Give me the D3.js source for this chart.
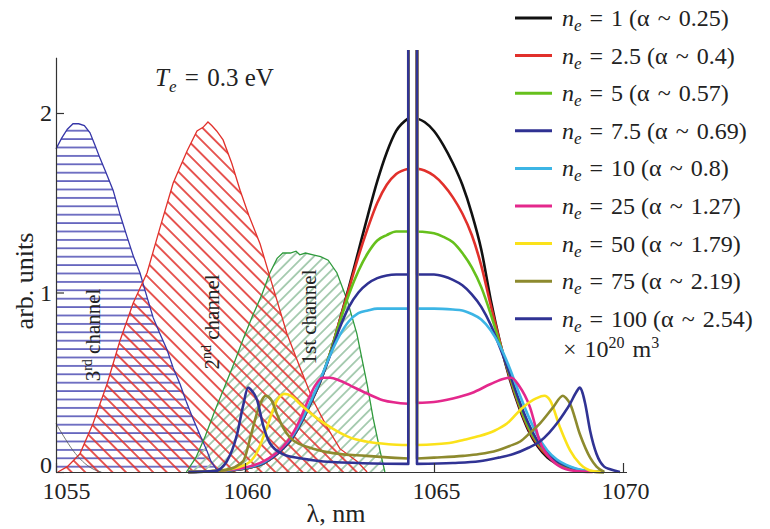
<!DOCTYPE html>
<html>
<head>
<meta charset="utf-8">
<script src="https://cdn.jsdelivr.net/npm/d3@7"></script>
<style>
  body { margin: 0; background: #fff; }
  svg text { font-family: "Liberation Serif", "Times New Roman", serif; }
</style>
</head>
<body>
<div id="chart"></div>
<script>
// axis ticks
const lambdaTicks = [1055, 1060, 1065, 1070];
const valueTicks = [0, 1, 2];

// filter channels [lambda nm, arb. units]
const channel3 = [[1055.0,1.80],[1055.15,1.86],[1055.3,1.91],[1055.45,1.94],[1055.6,1.94],[1055.75,1.93],[1055.9,1.89],[1056.05,1.81],[1056.16,1.75],[1056.3,1.68],[1056.51,1.57],[1056.7,1.43],[1056.88,1.31],[1057.05,1.2],[1057.22,1.11],[1057.4,0.98],[1057.57,0.86],[1057.75,0.77],[1057.94,0.68],[1058.1,0.58],[1058.28,0.49],[1058.45,0.39],[1058.62,0.30],[1058.8,0.21],[1058.99,0.12],[1059.1,0.06],[1059.26,0.01],[1059.4,0]];
const channel2 = [[1055.05,0],[1055.3,0.03],[1055.63,0.10],[1055.98,0.27],[1056.35,0.49],[1056.69,0.73],[1057.04,0.94],[1057.41,1.11],[1057.75,1.36],[1058.1,1.61],[1058.47,1.79],[1058.73,1.90],[1058.89,1.92],[1059.02,1.95],[1059.12,1.93],[1059.25,1.9],[1059.42,1.85],[1059.65,1.72],[1059.87,1.57],[1060.1,1.43],[1060.4,1.27],[1060.74,1.03],[1061.11,0.77],[1061.46,0.58],[1061.8,0.40],[1062.17,0.25],[1062.51,0.13],[1062.96,0.06],[1063.23,0]];
const channel1 = [[1058.45,0],[1058.7,0.08],[1058.95,0.2],[1059.2,0.34],[1059.45,0.47],[1059.7,0.6],[1059.95,0.74],[1060.2,0.87],[1060.45,0.99],[1060.66,1.11],[1060.85,1.19],[1061.0,1.22],[1061.2,1.22],[1061.35,1.23],[1061.45,1.21],[1061.6,1.22],[1061.8,1.21],[1062.0,1.2],[1062.2,1.18],[1062.43,1.11],[1062.7,0.96],[1062.96,0.77],[1063.23,0.49],[1063.39,0.30],[1063.57,0.12],[1063.7,0]];
const faintTail = [[1055.0,0.27],[1055.2,0.2],[1055.45,0.12],[1055.7,0.06],[1055.95,0.02],[1056.2,0]];
const channelNames = ["3", "2", "1"];
const channelSup = ["rd", "nd", "st"];

// laser notch edges (nm)
const notch = [1064.32, 1064.55];

// spectra, n_e x 10^20 m^-3
const densities = ["1", "2.5", "5", "7.5", "10", "25", "50", "75", "100"];
const alphas = ["0.25", "0.4", "0.57", "0.69", "0.8", "1.27", "1.79", "2.19", "2.54"];
const colors = ["#111111", "#e1302b", "#66c01c", "#2f3192", "#3cb5e5", "#e4288c", "#fbe21a", "#8d8a2e", "#303394"];

const ne1Left = [[1058.5,0],[1059,0.003],[1059.5,0.008],[1060,0.02],[1060.5,0.05],[1061,0.13],[1061.25,0.19],[1061.5,0.28],[1061.75,0.39],[1062,0.51],[1062.25,0.66],[1062.5,0.84],[1062.75,1.03],[1063,1.23],[1063.25,1.43],[1063.5,1.62],[1063.75,1.78],[1064,1.9],[1064.32,1.97]];
const ne1Right = [[1064.55,1.97],[1064.75,1.95],[1065,1.9],[1065.25,1.82],[1065.5,1.72],[1065.75,1.6],[1066,1.44],[1066.25,1.24],[1066.5,0.96],[1066.75,0.72],[1067,0.52],[1067.25,0.36],[1067.5,0.23],[1067.75,0.14],[1068,0.08],[1068.25,0.045],[1068.5,0.02],[1068.75,0.01],[1069,0.004],[1069.5,0]];
const ne2Left = [[1058.5,0],[1059,0.003],[1059.5,0.008],[1060,0.02],[1060.5,0.05],[1061,0.13],[1061.25,0.19],[1061.5,0.28],[1061.75,0.39],[1062,0.51],[1062.25,0.66],[1062.5,0.84],[1062.75,1.02],[1063,1.2],[1063.25,1.36],[1063.5,1.5],[1063.75,1.6],[1064,1.66],[1064.32,1.69]];
const ne2Right = [[1064.55,1.69],[1064.75,1.68],[1065,1.65],[1065.25,1.6],[1065.5,1.53],[1065.75,1.44],[1066,1.32],[1066.25,1.15],[1066.5,0.93],[1066.75,0.72],[1067,0.53],[1067.25,0.37],[1067.5,0.24],[1067.75,0.15],[1068,0.09],[1068.25,0.05],[1068.5,0.025],[1068.75,0.012],[1069,0.005],[1069.5,0]];
const ne5Left = [[1058.5,0],[1059,0.003],[1059.5,0.008],[1060,0.02],[1060.5,0.05],[1061,0.13],[1061.25,0.19],[1061.5,0.28],[1061.75,0.39],[1062,0.51],[1062.25,0.66],[1062.5,0.83],[1062.75,0.99],[1063,1.12],[1063.25,1.22],[1063.5,1.29],[1063.75,1.32],[1064,1.34],[1064.32,1.34]];
const ne5Right = [[1064.55,1.34],[1065,1.33],[1065.25,1.31],[1065.5,1.28],[1065.75,1.22],[1066,1.14],[1066.25,1.03],[1066.5,0.88],[1066.75,0.71],[1067,0.54],[1067.25,0.38],[1067.5,0.25],[1067.75,0.16],[1068,0.1],[1068.25,0.055],[1068.5,0.03],[1068.75,0.014],[1069,0.006],[1069.5,0]];
const ne75Left = [[1058.5,0],[1059,0.003],[1059.5,0.008],[1060,0.02],[1060.5,0.05],[1061,0.13],[1061.25,0.19],[1061.5,0.28],[1061.75,0.39],[1062,0.51],[1062.25,0.65],[1062.5,0.8],[1062.75,0.92],[1063,1.0],[1063.25,1.05],[1063.5,1.08],[1063.75,1.095],[1064,1.1],[1064.32,1.1]];
const ne75Right = [[1064.55,1.1],[1065,1.1],[1065.25,1.09],[1065.5,1.07],[1065.75,1.04],[1066,0.99],[1066.25,0.92],[1066.5,0.82],[1066.75,0.69],[1067,0.55],[1067.25,0.40],[1067.5,0.27],[1067.75,0.17],[1068,0.11],[1068.25,0.06],[1068.5,0.035],[1068.75,0.017],[1069,0.007],[1069.5,0]];
const ne10Left = [[1058.5,0],[1059,0.003],[1059.5,0.009],[1060,0.022],[1060.5,0.055],[1061,0.14],[1061.25,0.2],[1061.5,0.29],[1061.75,0.4],[1062,0.52],[1062.25,0.65],[1062.5,0.76],[1062.75,0.84],[1063,0.885],[1063.25,0.9],[1063.5,0.91],[1064.32,0.91]];
const ne10Right = [[1064.55,0.91],[1065,0.91],[1065.5,0.905],[1065.75,0.9],[1066,0.88],[1066.25,0.85],[1066.5,0.79],[1066.75,0.70],[1067,0.58],[1067.25,0.44],[1067.5,0.31],[1067.75,0.2],[1068,0.12],[1068.25,0.07],[1068.5,0.04],[1068.75,0.02],[1069,0.008],[1069.5,0]];
const ne25Left = [[1058.5,0],[1059.5,0.01],[1060,0.025],[1060.5,0.06],[1061,0.14],[1061.25,0.21],[1061.45,0.29],[1061.65,0.39],[1061.85,0.48],[1062.05,0.525],[1062.25,0.525],[1062.5,0.51],[1062.8,0.48],[1063.2,0.44],[1063.65,0.40],[1064.32,0.38]];
const ne25Right = [[1064.55,0.385],[1065,0.39],[1065.5,0.41],[1066,0.44],[1066.5,0.49],[1066.85,0.52],[1067.05,0.525],[1067.25,0.48],[1067.54,0.36],[1067.8,0.17],[1068.15,0.06],[1068.5,0.015],[1068.75,0.005],[1069.2,0]];
const ne50Left = [[1058.5,0],[1059,0.004],[1059.5,0.012],[1060.05,0.045],[1060.32,0.11],[1060.58,0.25],[1060.85,0.40],[1061.05,0.435],[1061.25,0.42],[1061.45,0.38],[1061.9,0.3],[1062.33,0.24],[1062.8,0.19],[1063.2,0.17],[1063.8,0.155],[1064.32,0.15]];
const ne50Right = [[1064.55,0.15],[1065.34,0.16],[1065.8,0.18],[1066.2,0.20],[1066.6,0.23],[1066.93,0.27],[1067.35,0.36],[1067.7,0.41],[1067.92,0.425],[1068.07,0.40],[1068.33,0.25],[1068.6,0.12],[1068.86,0.045],[1069.2,0.005],[1069.5,0]];
const ne75Left2 = [[1058.5,0],[1059,0.003],[1059.5,0.012],[1059.95,0.06],[1060.15,0.2],[1060.35,0.35],[1060.55,0.425],[1060.7,0.4],[1060.85,0.32],[1061.0,0.25],[1061.2,0.19],[1061.45,0.155],[1061.8,0.13],[1062.33,0.105],[1063.2,0.09],[1064.32,0.075]];
const ne75Right2 = [[1064.55,0.075],[1065.0,0.08],[1065.77,0.09],[1066.2,0.10],[1066.67,0.12],[1067.0,0.145],[1067.28,0.17],[1067.55,0.22],[1067.8,0.27],[1068.15,0.36],[1068.41,0.425],[1068.5,0.41],[1068.6,0.38],[1068.86,0.21],[1069.13,0.08],[1069.3,0.03],[1069.5,0]];
const ne100Left = [[1058.5,0],[1059.2,0.005],[1059.52,0.06],[1059.79,0.21],[1059.95,0.37],[1060.08,0.47],[1060.15,0.46],[1060.32,0.40],[1060.48,0.26],[1060.66,0.16],[1061.0,0.10],[1061.5,0.075],[1061.9,0.063],[1063,0.05],[1064.32,0.045]];
const ne100Right = [[1064.55,0.045],[1065.5,0.05],[1066.2,0.06],[1066.7,0.08],[1067.1,0.10],[1067.5,0.135],[1067.8,0.17],[1068.05,0.22],[1068.25,0.27],[1068.45,0.33],[1068.6,0.38],[1068.75,0.44],[1068.86,0.47],[1068.93,0.44],[1069.0,0.38],[1069.13,0.23],[1069.3,0.10],[1069.5,0.03],[1069.66,0.015],[1069.92,0]];

const leftWings = [ne1Left, ne2Left, ne5Left, ne75Left, ne10Left, ne25Left, ne50Left, ne75Left2, ne100Left];
const rightWings = [ne1Right, ne2Right, ne5Right, ne75Right, ne10Right, ne25Right, ne50Right, ne75Right2, ne100Right];

const width = 770, height = 529;
const yMax = 2.31;
const sp = "\u2004"; // slightly wider math-style space

const x = d3.scaleLinear().domain([1055, 1070]).range([56, 623]);
const y = d3.scaleLinear().domain([0, yMax]).range([472, 472 - yMax * 179.5]);

const svg = d3.select("#chart")
  .append("svg")
  .attr("width", width)
  .attr("height", height)
  .attr("font-family", "Liberation Serif");

const defs = svg.append("defs");

function hatch(id, size, angle, color, w, offset) {
  const p = defs.append("pattern")
    .attr("id", id)
    .attr("patternUnits", "userSpaceOnUse")
    .attr("width", size)
    .attr("height", size);
  if (angle) p.attr("patternTransform", `rotate(${angle})`);
  p.append("line")
    .attr("x1", -1).attr("x2", size + 1)
    .attr("y1", offset).attr("y2", offset)
    .attr("stroke", color)
    .attr("stroke-width", w);
}
hatch("h3", 8.4, 0, "#3b3bac", 1.4, 4.7);
hatch("h2", 9.6, 45, "#e1302b", 1.6, 4.8);
hatch("h1", 7.4, -45, "#a6cbb0", 1.8, 3.7);

defs.append("clipPath").attr("id", "plot")
  .append("rect").attr("x", 50).attr("y", 50).attr("width", 600).attr("height", 430);

const area = d3.area().x(d => x(d[0])).y0(y(0)).y1(d => y(d[1]));
const outline = d3.line().x(d => x(d[0])).y(d => y(d[1]));
const smooth = d3.line().x(d => x(d[0])).y(d => y(d[1])).curve(d3.curveMonotoneX);

const plot = svg.append("g").attr("clip-path", "url(#plot)");

// hatched channels
const channels = [
  { data: channel3, fill: "url(#h3)", stroke: "#3636a8" },
  { data: channel1, fill: "url(#h1)", stroke: "#2f9a3c" },
  { data: channel2, fill: "url(#h2)", stroke: "#e1302b" }
];
plot.selectAll("path.chan")
  .data(channels)
  .enter()
  .append("path")
  .attr("class", "chan")
  .attr("d", d => area(d.data))
  .attr("fill", d => d.fill);

plot.selectAll("path.chanline")
  .data(channels)
  .enter()
  .append("path")
  .attr("class", "chanline")
  .attr("d", d => outline(d.data))
  .attr("fill", "none")
  .attr("stroke", d => d.stroke)
  .attr("stroke-width", 1.3);

plot.append("path")
  .attr("d", smooth(faintTail))
  .attr("fill", "none")
  .attr("stroke", "#555")
  .attr("stroke-width", 0.8);

// spectra with notch spike
function spectrumPath(left, right) {
  const a = smooth(left);
  const b = smooth(right);
  return a + `L${x(notch[0])},${y(3)}L${x(notch[1])},${y(3)}L` + b.slice(1);
}

plot.selectAll("path.spec")
  .data(d3.range(densities.length))
  .enter()
  .append("path")
  .attr("class", "spec")
  .attr("d", i => spectrumPath(leftWings[i], rightWings[i]))
  .attr("fill", "none")
  .attr("stroke", i => colors[i])
  .attr("stroke-width", 2.6)
  .attr("stroke-linejoin", "round");

// axes
const xAxis = d3.axisBottom(x)
  .tickValues(lambdaTicks)
  .tickSizeInner(-9)
  .tickSizeOuter(0)
  .tickPadding(10)
  .tickFormat(d3.format("d"));

const gx = svg.append("g")
  .attr("transform", `translate(0,${y(0)})`)
  .call(xAxis);
gx.selectAll("text").attr("dx", (d, i) => i === 0 ? 10 : 2);
gx.select(".domain").attr("d", `M${x(1055)},0.5H${x(1070) + 4}`);

const yAxis = d3.axisLeft(y)
  .tickValues(valueTicks)
  .tickSizeInner(-8)
  .tickSizeOuter(0)
  .tickPadding(4)
  .tickFormat(d3.format("d"));

const gy = svg.append("g")
  .attr("transform", `translate(${x(1055)},0)`)
  .call(yAxis);
gy.selectAll("text").attr("dy", d => d === 0 ? "0.02em" : "0.32em");

svg.selectAll(".domain, .tick line").attr("stroke", "#333").attr("stroke-width", 1.2);
svg.selectAll(".tick text")
  .attr("fill", "#222")
  .attr("font-size", 24)
  .attr("font-family", "Liberation Serif");

// axis titles
svg.append("text")
  .attr("transform", "translate(33,281) rotate(-90)")
  .attr("text-anchor", "middle")
  .attr("font-size", 26)
  .attr("fill", "#222")
  .text("arb. units");

svg.append("text")
  .attr("x", 336)
  .attr("y", 522)
  .attr("text-anchor", "middle")
  .attr("font-size", 26)
  .attr("fill", "#222")
  .text("λ, nm");

// T_e label
const te = svg.append("text").attr("x", 155).attr("y", 86).attr("font-size", 25).attr("fill", "#222");
te.append("tspan").attr("font-style", "italic").text("T");
te.append("tspan").attr("font-style", "italic").attr("font-size", 17).attr("dy", 6).text("e");
te.append("tspan").attr("dy", -6).text(`${sp}=${sp}0.3 eV`);

// channel labels
const chanPos = [[100, 335], [219, 322], [316, 317]];
chanPos.forEach((p, i) => {
  const t = svg.append("text")
    .attr("transform", `translate(${p[0]},${p[1]}) rotate(-90)`)
    .attr("text-anchor", "middle")
    .attr("font-size", 21)
    .attr("fill", "#222");
  t.append("tspan").text(channelNames[i]);
  if (i < 2) {
    t.append("tspan").attr("font-size", 14).attr("dy", -8).text(channelSup[i]);
    t.append("tspan").attr("dy", 8).text(" channel");
  } else {
    t.append("tspan").text(channelSup[i] + " channel");
  }
});

// legend
const legend = svg.append("g");
densities.forEach((n, i) => {
  const ly = 18 + i * 37.6;
  legend.append("line")
    .attr("x1", 515).attr("x2", 552)
    .attr("y1", ly).attr("y2", ly)
    .attr("stroke", colors[i])
    .attr("stroke-width", 3);
  const t = legend.append("text")
    .attr("x", 562).attr("y", ly + 8)
    .attr("font-size", 24)
    .attr("fill", "#222");
  t.append("tspan").attr("font-style", "italic").text("n");
  t.append("tspan").attr("font-style", "italic").attr("font-size", 17).attr("dy", 5).text("e");
  t.append("tspan").attr("dy", -5).text(`${sp}=${sp}${n} (α${sp}~${sp}${alphas[i]})`);
});
const unit = legend.append("text").attr("x", 563).attr("y", 357).attr("font-size", 24).attr("fill", "#222");
unit.append("tspan").text(`×${sp}10`);
unit.append("tspan").attr("font-size", 16).attr("dy", -9).text("20");
unit.append("tspan").attr("dy", 9).text(`${sp}m`);
unit.append("tspan").attr("font-size", 16).attr("dy", -9).text("3");
</script>
</body>
</html>
